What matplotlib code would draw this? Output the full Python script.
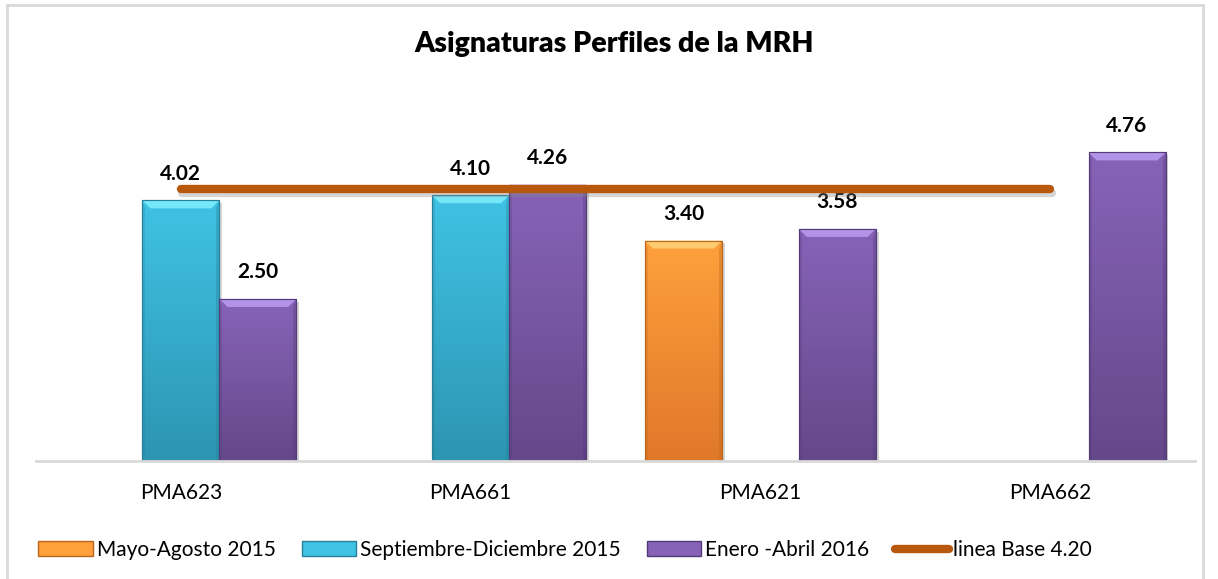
import numpy as np
import matplotlib
matplotlib.use("Agg")
import matplotlib.pyplot as plt
from matplotlib.colors import LinearSegmentedColormap
from matplotlib.patches import Patch, Polygon
from matplotlib.lines import Line2D
import matplotlib.patheffects as pe

plt.rcParams['font.family'] = ['Lato', 'DejaVu Sans']

# data
categories = ['PMA623', 'PMA661', 'PMA621', 'PMA662']
series_names = ['Mayo-Agosto 2015', 'Septiembre-Diciembre 2015', 'Enero -Abril 2016']
mayo_ago_2015 = [np.nan, np.nan, 3.40, np.nan]
sep_dic_2015 = [4.02, 4.10, np.nan, np.nan]
ene_abr_2016 = [2.50, 4.26, 3.58, 4.76]
linea_base = [4.20, 4.20, 4.20, 4.20]
linea_label = 'linea Base 4.20'
title = 'Asignaturas Perfiles de la MRH'

# colours: (top, bottom, bevel, edge)
styles = [
    ('#ffa03c', '#e0782a', '#ffd37a', '#b8661e'),
    ('#40c2e4', '#2c95b2', '#7eeefc', '#277f99'),
    ('#8763b8', '#65488a', '#bb9cf0', '#533a78'),
]
line_color = '#b8580c'

W, H = 1218, 579
fig = plt.figure(figsize=(W / 100, H / 100), dpi=100)
ax = fig.add_axes([36 / W, 118 / H, (1195 - 36) / W, (461 - 72) / H])
ax.set_xlim(-0.5, 3.5)
ax.set_ylim(0, 6)

x = np.arange(len(categories))
w = 77 / 290
px_x = 4 / (1195 - 36)      # data units per pixel
px_y = 6 / (461 - 72)

all_series = [mayo_ago_2015, sep_dic_2015, ene_abr_2016]
for i, vals in enumerate(all_series):
    top, bot, bev, edge = styles[i]
    cmap = LinearSegmentedColormap.from_list('g%d' % i, [bot, top])
    bars = ax.bar(x + (i - 1) * w, vals, w, color=top, edgecolor=edge,
                  linewidth=0.8, zorder=2,
                  path_effects=[pe.SimplePatchShadow(offset=(2, -2), shadow_rgbFace='#999999', alpha=0.4),
                                pe.Normal()])
    for b, v in zip(bars, vals):
        if np.isnan(v):
            continue
        x0, bw, h = b.get_x(), b.get_width(), b.get_height()
        grad = np.linspace(0, 1, 100).reshape(-1, 1)
        im = ax.imshow(grad, extent=(x0, x0 + bw, 0, h), origin='lower', cmap=cmap,
                       aspect='auto', zorder=2.1)
        im.set_clip_path(b)
        # bevel on top
        bx, by = 8 * px_x, 8 * px_y
        ax.add_patch(Polygon([(x0, h), (x0 + bw, h), (x0 + bw - bx, h - by), (x0 + bx, h - by)],
                             closed=True, facecolor=bev, edgecolor='none', alpha=0.85, zorder=2.2))
        # darker side bevels
        sx = 3 * px_x
        ax.add_patch(Polygon([(x0 + bw, h), (x0 + bw, 0), (x0 + bw - sx, 0), (x0 + bw - sx, h - by)],
                             closed=True, facecolor=edge, edgecolor='none', alpha=0.35, zorder=2.2))
        ax.add_patch(Polygon([(x0, h), (x0, 0), (x0 + sx, 0), (x0 + sx, h - by)],
                             closed=True, facecolor=edge, edgecolor='none', alpha=0.25, zorder=2.2))
        ax.add_patch(plt.Rectangle((x0, 0), bw, h, fill=False, edgecolor=edge, linewidth=0.8, zorder=2.3))
        ax.annotate('%.2f' % v, (x0 + bw / 2, h), xytext=(0, 12), textcoords='offset points',
                    ha='center', va='bottom', fontsize=15, fontweight='bold', color='#000000')

ax.plot(x, linea_base, color=line_color, linewidth=6, solid_capstyle='round', zorder=4,
        path_effects=[pe.SimpleLineShadow(offset=(1, -3), shadow_color='#888888', alpha=0.35), pe.Normal()])

for s in ['top', 'right', 'left']:
    ax.spines[s].set_visible(False)
ax.spines['bottom'].set_color('#d9d9d9')
ax.spines['bottom'].set_linewidth(2)
ax.set_yticks([])
ax.set_xticks(x)
ax.set_xticklabels(categories, fontsize=15)
ax.tick_params(axis='x', length=0, pad=16)

fig.text(614 / W, 1 - 44 / H, title, ha='center', va='center', fontsize=20.5, fontweight='heavy')

handles = [Patch(facecolor=styles[i][0], edgecolor=styles[i][3]) for i in range(3)]
handles.append(Line2D([0], [0], color=line_color, linewidth=6, solid_capstyle='round'))
fig.legend(handles, series_names + [linea_label], loc='center left',
           bbox_to_anchor=(30 / W, 1 - 550 / H), ncol=4, frameon=False, fontsize=15,
           handlelength=2.6, handleheight=0.7, handletextpad=0.2, columnspacing=1.25,
           borderaxespad=0)

# outer frame
fig.add_artist(Line2D([7 / W, 7 / W], [0, 1 - 5 / H], color='#d9d9d9', linewidth=2))
fig.add_artist(Line2D([7 / W, 1203 / W], [1 - 5 / H, 1 - 5 / H], color='#d9d9d9', linewidth=2))
fig.add_artist(Line2D([1203 / W, 1203 / W], [0, 1 - 5 / H], color='#d9d9d9', linewidth=2))

fig.savefig('out.png', dpi=100)
